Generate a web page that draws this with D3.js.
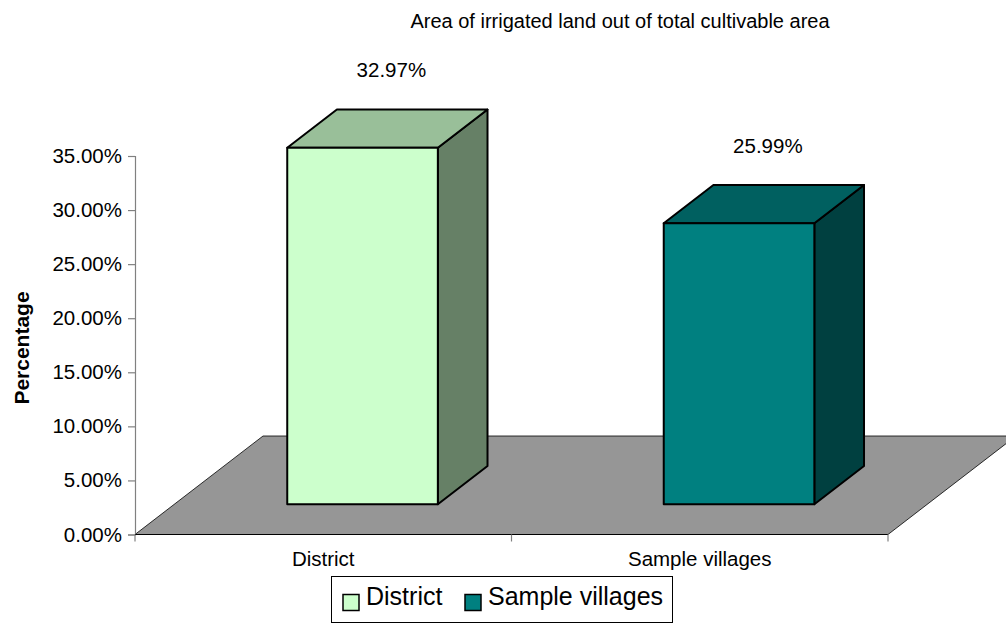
<!DOCTYPE html>
<html>
<head>
<meta charset="utf-8">
<script src="https://cdn.jsdelivr.net/npm/d3@7"></script>
<style>
  html, body { margin: 0; padding: 0; background: #fff; }
  svg { display: block; font-family: "Liberation Sans", Arial, sans-serif; }
</style>
</head>
<body>
<svg id="chart" width="1006" height="625"></svg>
<script>
// Irrigated share of cultivable land
const categories = ["District", "Sample villages"];
const values = [0.3297, 0.2599];
const yTicks = [0, 0.05, 0.10, 0.15, 0.20, 0.25, 0.30, 0.35];
const title = "Area of irrigated land out of total cultivable area";
const yTitle = "Percentage";

// Face shades per series: front, top, side
const faceColors = [
  { front: "#CCFFCC", top: "#99BF99", side: "#668066" },
  { front: "#008080", top: "#006060", side: "#004040" }
];

const svg = d3.select("#chart");
const W = 1006, H = 625;

const plot = { left: 135, right: 888, bottom: 534.5, top: 156 };
// oblique depth vector of the floor (front edge -> back edge)
const depth = { dx: 128, dy: -98.5 };
const f0 = 0.307, f1 = 0.695;   // bar front / back depth fractions

const x = d3.scaleBand().domain(categories)
  .range([plot.left, plot.right]).paddingInner(0.6).paddingOuter(0.3);
const y = d3.scaleLinear().domain([0, 0.35]).range([plot.bottom, plot.top]);

const P = (px, py, f) => [px + f * depth.dx, py + f * depth.dy];
const poly = pts => "M" + pts.map(p => p.join(",")).join("L") + "Z";

// floor
svg.append("path")
  .attr("d", poly([
    P(plot.left, plot.bottom, 0), P(plot.right, plot.bottom, 0),
    P(plot.right, plot.bottom, 1), P(plot.left, plot.bottom, 1)
  ]))
  .attr("fill", "#969696").attr("stroke", "#000").attr("stroke-width", 0.8);

// value axis
const yAxis = svg.append("g")
  .attr("transform", `translate(${plot.left},0)`)
  .call(d3.axisLeft(y).tickValues(yTicks).tickFormat(d3.format(".2%")).tickSize(7).tickPadding(6));
yAxis.select(".domain").attr("stroke", "#808080").attr("stroke-width", 1.2);
yAxis.selectAll(".tick line").attr("stroke", "#808080").attr("stroke-width", 1.2);
yAxis.selectAll(".tick text").attr("fill", "#000")
  .style("font-size", "20.5px").style("font-family", "Liberation Sans, Arial, sans-serif");

// category axis: line along the floor front with ticks at category boundaries
const step = x.step();
const bw = x.bandwidth();
const bounds = categories.map(c => x(c) - (step - bw) / 2)
  .concat([x(categories[categories.length - 1]) + bw + (step - bw) / 2]);
svg.append("line")
  .attr("x1", plot.left).attr("x2", plot.right)
  .attr("y1", plot.bottom).attr("y2", plot.bottom)
  .attr("stroke", "#000").attr("stroke-width", 1);
svg.selectAll(".xtick").data(bounds).enter().append("line")
  .attr("class", "xtick")
  .attr("x1", d => d).attr("x2", d => d)
  .attr("y1", plot.bottom).attr("y2", plot.bottom + 7)
  .attr("stroke", "#808080").attr("stroke-width", 1.2);
svg.selectAll(".xlabel").data(categories).enter().append("text")
  .attr("class", "xlabel")
  .attr("x", d => x(d) + bw / 2).attr("y", 566)
  .attr("text-anchor", "middle").style("font-size", "20.5px")
  .text(d => d);

// bars
const bars = svg.selectAll(".bar").data(categories.map((c, i) => ({ c, v: values[i], i })))
  .enter().append("g").attr("class", "bar");

bars.each(function (d) {
  const g = d3.select(this);
  const x0 = x(d.c), x1 = x0 + bw;
  const yb = y(0), yt = y(d.v);
  const col = faceColors[d.i];
  const stroke = { stroke: "#000", "stroke-width": 2, "stroke-linejoin": "round" };
  const face = (pts, fill) => {
    const p = g.append("path").attr("d", poly(pts)).attr("fill", fill);
    Object.entries(stroke).forEach(([k, v]) => p.attr(k, v));
  };
  face([P(x1, yt, f0), P(x1, yt, f1), P(x1, yb, f1), P(x1, yb, f0)], col.side);
  face([P(x0, yt, f0), P(x1, yt, f0), P(x1, yt, f1), P(x0, yt, f1)], col.top);
  face([P(x0, yt, f0), P(x1, yt, f0), P(x1, yb, f0), P(x0, yb, f0)], col.front);

  const mid = P(x0 + bw / 2, yt, (f0 + f1) / 2);
  const back = P(x0, yt, f1);
  g.append("text")
    .attr("x", mid[0] + 4).attr("y", back[1] - 32)
    .attr("text-anchor", "middle").style("font-size", "20.5px")
    .text(d3.format(".2%")(d.v));
});

// titles
svg.append("text")
  .attr("x", 620).attr("y", 28).attr("text-anchor", "middle")
  .style("font-size", "20px").text(title);
svg.append("text")
  .attr("transform", `translate(29,348) rotate(-90)`)
  .attr("text-anchor", "middle").style("font-size", "21px").style("font-weight", "bold")
  .text(yTitle);

// legend
const legend = svg.append("g");
legend.append("rect")
  .attr("x", 331.5).attr("y", 576.5).attr("width", 341).attr("height", 46)
  .attr("fill", "#fff").attr("stroke", "#000").attr("stroke-width", 1);
const legendX = [343, 465];
const items = legend.selectAll(".item").data(categories).enter().append("g")
  .attr("class", "item")
  .attr("transform", (d, i) => `translate(${legendX[i]},0)`);
items.append("rect")
  .attr("x", 0).attr("y", 594.5).attr("width", 16).attr("height", 16)
  .attr("fill", (d, i) => faceColors[i].front).attr("stroke", "#000").attr("stroke-width", 1.5);
items.append("text")
  .attr("x", 23).attr("y", 605 + 0).attr("dy", "0.0em")
  .style("font-size", "25px").text(d => d);
</script>
</body>
</html>
